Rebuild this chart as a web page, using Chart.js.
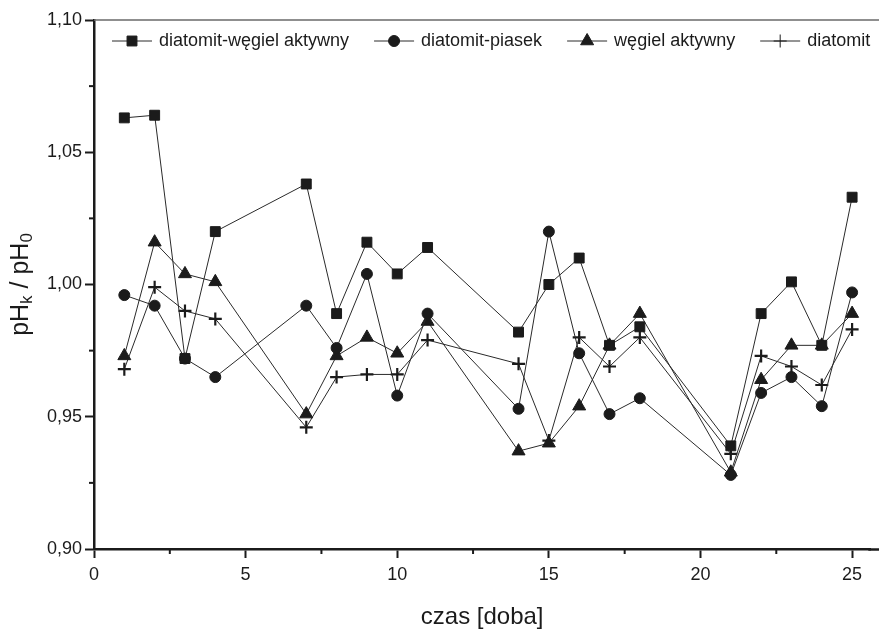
<!DOCTYPE html>
<html lang="pl">
<head>
<meta charset="utf-8">
<title>pHk / pH0 - czas</title>
<script src="https://cdn.jsdelivr.net/npm/chart.js@4.4.1/dist/chart.umd.min.js"></script>
<style>
    html, body { margin: 0; padding: 0; background: #fff; }
    #wrap { width: 879px; height: 629px; }
</style>
</head>
<body>
<div id="wrap"><canvas id="chartPh" width="879" height="629"></canvas></div>
<script>
// ===== Dane: stosunek pH w czasie =====
const dni = [1, 2, 3, 4, 7, 8, 9, 10, 11, 14, 15, 16, 17, 18, 21, 22, 23, 24, 25];

const diatomitWegiel = [1.063, 1.064, 0.972, 1.020, 1.038, 0.989, 1.016, 1.004, 1.014, 0.982,
    1.000, 1.010, 0.977, 0.984, 0.939, 0.989, 1.001, 0.977, 1.033];
const diatomitPiasek = [0.996, 0.992, 0.972, 0.965, 0.992, 0.976, 1.004, 0.958, 0.989, 0.953,
    1.020, 0.974, 0.951, 0.957, 0.928, 0.959, 0.965, 0.954, 0.997];
const wegielAktywny = [0.973, 1.016, 1.004, 1.001, 0.951, 0.973, 0.980, 0.974, 0.986, 0.937,
    0.940, 0.954, 0.977, 0.989, 0.929, 0.964, 0.977, 0.977, 0.989];
const diatomit = [0.968, 0.999, 0.990, 0.987, 0.946, 0.965, 0.966, 0.966, 0.979, 0.970,
    0.941, 0.980, 0.969, 0.980, 0.936, 0.973, 0.969, 0.962, 0.983];

const etykiety = ['diatomit-węgiel aktywny', 'diatomit-piasek', 'węgiel aktywny', 'diatomit'];

const xTicks = [0, 5, 10, 15, 20, 25];
const xMinor = [2.5, 7.5, 12.5, 17.5, 22.5];
const yTicks = [0.90, 0.95, 1.00, 1.05, 1.10];
const yMinor = [0.925, 0.975, 1.025, 1.075];

const INK = '#1b1b1b';
const FONT = "'Liberation Sans', Arial, sans-serif";

// estilo de cada serie (marcador)
const markers = [
    { pointStyle: 'rect', radius: 7, borderWidth: 1 },
    { pointStyle: 'circle', radius: 5.5, borderWidth: 1 },
    { pointStyle: 'triangle', radius: 7.5, borderWidth: 1 },
    { pointStyle: 'cross', radius: 6.5, borderWidth: 2.2 }
];
const series = [diatomitWegiel, diatomitPiasek, wegielAktywny, diatomit];

const datasets = series.map((vals, i) => ({
    label: etykiety[i],
    data: dni.map((d, j) => ({ x: d, y: vals[j] })),
    borderColor: '#2a2a2a',
    borderWidth: 1,
    backgroundColor: INK,
    pointStyle: markers[i].pointStyle,
    pointRadius: markers[i].radius,
    pointBorderWidth: markers[i].borderWidth,
    pointBorderColor: INK,
    pointBackgroundColor: INK,
    tension: 0
}));

// ramka u gory, krotkie podzialki, tytul osi Y z indeksami
const extrasPlugin = {
    id: 'extras',
    afterDraw(chart) {
        const { ctx, chartArea, scales } = chart;
        ctx.save();

        // gorna linia ramki
        ctx.strokeStyle = '#6a6a6a';
        ctx.lineWidth = 1.5;
        ctx.beginPath();
        ctx.moveTo(chartArea.left, chartArea.top);
        ctx.lineTo(chart.width, chartArea.top);
        ctx.stroke();

        // os X do krawedzi
        ctx.strokeStyle = INK;
        ctx.lineWidth = 2.5;
        ctx.beginPath();
        ctx.moveTo(chartArea.right - 2, chartArea.bottom + 0.5);
        ctx.lineTo(chart.width, chartArea.bottom + 0.5);
        ctx.stroke();

        // podzialki pomocnicze
        ctx.lineWidth = 2;
        xMinor.forEach(v => {
            const px = scales.x.getPixelForValue(v);
            ctx.beginPath();
            ctx.moveTo(px, chartArea.bottom);
            ctx.lineTo(px, chartArea.bottom + 5);
            ctx.stroke();
        });
        yMinor.forEach(v => {
            const py = scales.y.getPixelForValue(v);
            ctx.beginPath();
            ctx.moveTo(chartArea.left, py);
            ctx.lineTo(chartArea.left - 5, py);
            ctx.stroke();
        });

        // tytul osi Y: pHk / pH0
        const big = '25px ' + FONT;
        const small = '17px ' + FONT;
        const parts = [
            { t: 'pH', f: big, dy: 0 },
            { t: 'k', f: small, dy: 6 },
            { t: ' / pH', f: big, dy: 0 },
            { t: '0', f: small, dy: 6 }
        ];
        let total = 0;
        parts.forEach(p => { ctx.font = p.f; p.w = ctx.measureText(p.t).width; total += p.w; });
        const cy = (chartArea.top + chartArea.bottom) / 2;
        ctx.translate(21, cy);
        ctx.rotate(-Math.PI / 2);
        ctx.fillStyle = INK;
        ctx.textBaseline = 'middle';
        ctx.textAlign = 'left';
        let x = -total / 2;
        parts.forEach(p => {
            ctx.font = p.f;
            ctx.fillText(p.t, x, p.dy);
            x += p.w;
        });
        ctx.restore();

        // legenda wewnatrz wykresu
        ctx.save();
        ctx.font = '18px ' + FONT;
        ctx.textBaseline = 'middle';
        ctx.fillStyle = INK;
        const ly = chartArea.top + 21;
        let lx = 112;
        chart.data.datasets.forEach((ds, i) => {
            ctx.strokeStyle = '#2a2a2a';
            ctx.lineWidth = 1;
            ctx.beginPath();
            ctx.moveTo(lx, ly);
            ctx.lineTo(lx + 40, ly);
            ctx.stroke();
            ctx.fillStyle = INK;
            ctx.strokeStyle = INK;
            Chart.helpers.drawPoint(ctx, {
                pointStyle: markers[i].pointStyle,
                radius: markers[i].radius,
                rotation: 0,
                borderWidth: markers[i].borderWidth
            }, lx + 20, ly);
            const w = ctx.measureText(ds.label).width;
            ctx.fillStyle = INK;
            ctx.fillText(ds.label, lx + 47, ly);
            lx += 47 + w + 25;
        });
        ctx.restore();
    }
};

const ctx = document.getElementById('chartPh').getContext('2d');
const chartPh = new Chart(ctx, {
    type: 'line',
    data: { datasets },
    options: {
        responsive: false,
        animation: false,
        devicePixelRatio: 1,
        layout: { padding: { top: 20, right: 0, bottom: 0, left: 0 } },
        plugins: {
            legend: { display: false },
            tooltip: { enabled: false }
        },
        scales: {
            x: {
                type: 'linear',
                min: 0,
                max: 25.6,
                afterBuildTicks: s => { s.ticks = xTicks.map(v => ({ value: v })); },
                afterFit: s => { s.height = 80; },
                border: { color: INK, width: 2.5 },
                grid: { drawOnChartArea: false, drawTicks: true, tickLength: 9, tickWidth: 2, tickColor: INK },
                ticks: {
                    color: INK,
                    padding: 6,
                    maxRotation: 0,
                    font: { family: FONT, size: 18 },
                    callback: v => String(v)
                },
                title: {
                    display: true,
                    text: 'czas [doba]',
                    color: INK,
                    padding: { top: 0, bottom: 0 },
                    font: { family: FONT, size: 24, lineHeight: 1 }
                }
            },
            y: {
                type: 'linear',
                min: 0.90,
                max: 1.10,
                afterBuildTicks: s => { s.ticks = yTicks.map(v => ({ value: v })); },
                afterFit: s => { s.width = 94; },
                border: { color: INK, width: 2.5 },
                grid: { drawOnChartArea: false, drawTicks: true, tickLength: 9, tickWidth: 2, tickColor: INK },
                ticks: {
                    color: INK,
                    padding: 3,
                    font: { family: FONT, size: 18 },
                    callback: v => v.toFixed(2).replace('.', ',')
                }
            }
        }
    },
    plugins: [extrasPlugin]
});
</script>
</body>
</html>
